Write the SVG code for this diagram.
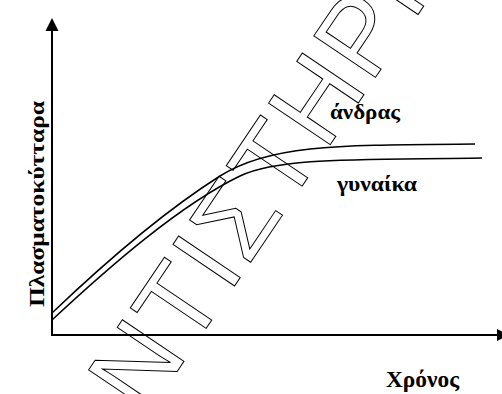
<svg xmlns="http://www.w3.org/2000/svg" width="502" height="394" viewBox="0 0 502 394">
<style>
.axis{stroke:#000;stroke-width:2;fill:none}
.curve{stroke:#000;stroke-width:1.5;fill:none}
.lbl{font-family:"Liberation Serif","Times New Roman",serif;font-weight:bold;fill:#000}
.wm{font-family:"Liberation Sans",Arial,sans-serif;fill:none;stroke:#000;stroke-width:1;letter-spacing:3px}
</style>
<rect width="502" height="394" fill="#fff"/>
<g id="watermark">
<text class="wm" x="103.3" y="480.9" font-size="108" transform="rotate(-56 103.3 480.9)">ΑΝΤΙΣΤΗΡΙΞΗ</text>
</g>
<g id="connectors">
<line class="axis" x1="52" y1="335" x2="52" y2="28"/>
<polygon points="52,18 45.5,31 58.5,31" fill="#000"/>
<line class="axis" x1="51" y1="335" x2="500" y2="335"/>
<polygon points="509,335 497,329 497,341" fill="#000"/>
<path id="male-curve" class="curve" d="M52,313 C95,272 160,214 220,176 C270,144 340,145 475,144"/>
<path id="female-curve" class="curve" d="M52,320 C110,266 180,205 240,176 C280,157 360,160 482,158"/>
</g>
<g id="label-andras"><text class="lbl" x="330" y="119" font-size="22" textLength="70" lengthAdjust="spacingAndGlyphs">άνδρας</text></g>
<g id="label-gynaika"><text class="lbl" x="337" y="191" font-size="22" textLength="80" lengthAdjust="spacingAndGlyphs">γυναίκα</text></g>
<g id="label-xronos"><text class="lbl" x="386" y="387" font-size="22.5" textLength="73" lengthAdjust="spacingAndGlyphs">Χρόνος</text></g>
<g id="label-y"><text class="lbl" x="44" y="307" font-size="20" textLength="206" lengthAdjust="spacingAndGlyphs" transform="rotate(-90 44 307)">Πλασματοκύτταρα</text></g>
</svg>
